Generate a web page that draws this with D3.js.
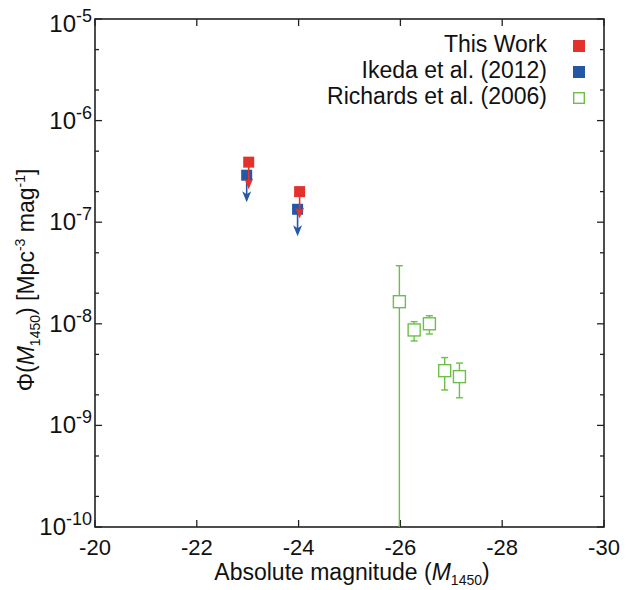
<!DOCTYPE html>
<html>
<head>
<meta charset="utf-8">
<script src="https://cdn.jsdelivr.net/npm/d3@7"></script>
<style>
  html, body { margin: 0; padding: 0; background: #fff; }
  svg { display: block; font-family: "Liberation Sans", Arial, sans-serif; }
</style>
</head>
<body>
<svg id="chart" width="629" height="590"></svg>
<script>
// ---- data ----
const thisWorkM = [-23.02, -24.02];
const thisWorkPhi = [3.9e-7, 2.0e-7];

const ikedaM = [-22.98, -23.98];
const ikedaPhi = [2.9e-7, 1.34e-7];

const richardsM = [-25.98, -26.27, -26.57, -26.87, -27.16];
const richardsPhi = [1.65e-8, 8.7e-9, 1.0e-8, 3.46e-9, 3.02e-9];
const richardsHi = [3.73e-8, 1.05e-8, 1.2e-8, 4.65e-9, 4.11e-9];
const richardsLo = [1e-11, 6.78e-9, 7.94e-9, 2.23e-9, 1.87e-9];

const xTicks = [-20, -22, -24, -26, -28, -30];
const yExponents = [-5, -6, -7, -8, -9, -10];
const yMinorMantissas = [2, 5];
const legendLabels = ["This Work", "Ikeda et al. (2012)", "Richards et al. (2006)"];

// ---- styles ----
const RED = "#e3312c", BLUE = "#2457a6", GREEN = "#6cbf48";

const svg = d3.select("#chart");
const L = 95, R = 604, T = 19, B = 527;
const x = d3.scaleLinear().domain([-20, -30]).range([L, R]);
const y = d3.scaleLog().domain([1e-10, 1e-5]).range([B, T]);

// clip
svg.append("defs").append("clipPath").attr("id", "clip")
  .append("rect").attr("x", L).attr("y", T).attr("width", R - L).attr("height", B - T);

const minorVals = [];
for (let e = -10; e < -5; e++) { yMinorMantissas.forEach(m => minorVals.push(m * Math.pow(10, e))); }

const axes = svg.append("g").attr("stroke", "#222").attr("stroke-width", 1.3);
// y ticks (left & right, inward)
yExponents.forEach(e => {
  const yy = y(Math.pow(10, e));
  axes.append("line").attr("x1", L).attr("x2", L + 7).attr("y1", yy).attr("y2", yy);
  axes.append("line").attr("x1", R).attr("x2", R - 7).attr("y1", yy).attr("y2", yy);
});
minorVals.forEach(v => {
  const yy = y(v);
  axes.append("line").attr("x1", L).attr("x2", L + 4).attr("y1", yy).attr("y2", yy);
  axes.append("line").attr("x1", R).attr("x2", R - 4).attr("y1", yy).attr("y2", yy);
});
// x ticks (bottom & top, inward)
xTicks.forEach(t => {
  const xx = x(t);
  axes.append("line").attr("x1", xx).attr("x2", xx).attr("y1", B).attr("y2", B - 7);
  axes.append("line").attr("x1", xx).attr("x2", xx).attr("y1", T).attr("y2", T + 7);
});
// frame
axes.append("rect").attr("x", L).attr("y", T).attr("width", R - L).attr("height", B - T)
  .attr("fill", "none").attr("stroke-width", 1.6);

// x tick labels
svg.append("g").selectAll("text").data(xTicks).join("text")
  .attr("x", d => x(d)).attr("y", 555).attr("text-anchor", "middle")
  .attr("font-size", 22).attr("fill", "#111").text(d => String(d));

// y tick labels
const yl = svg.append("g");
yExponents.forEach(e => {
  const yy = Math.max(y(Math.pow(10, e)) + 8, 32);
  const t = yl.append("text").attr("x", 92).attr("y", yy).attr("text-anchor", "end")
    .attr("font-size", 24).attr("fill", "#111");
  t.append("tspan").text("10");
  t.append("tspan").attr("font-size", 18).attr("dy", -10).text(String(e));
});

// axis titles
const xt = svg.append("text").attr("x", 352).attr("y", 580).attr("text-anchor", "middle")
  .attr("font-size", 23).attr("fill", "#111");
xt.append("tspan").text("Absolute magnitude (");
xt.append("tspan").attr("font-style", "italic").text("M");
xt.append("tspan").attr("font-size", 14).attr("dy", 5).text("1450");
xt.append("tspan").attr("dy", -5).text(")");

const yt = svg.append("text").attr("transform", "translate(34,280) rotate(-90)")
  .attr("text-anchor", "middle").attr("font-size", 23).attr("fill", "#111");
yt.append("tspan").text("Φ(");
yt.append("tspan").attr("font-style", "italic").text("M");
yt.append("tspan").attr("font-size", 14).attr("dy", 6).text("1450");
yt.append("tspan").attr("dy", -6).text(") [Mpc");
yt.append("tspan").attr("font-size", 14).attr("dy", -9).text("-3");
yt.append("tspan").attr("dy", 9).text(" mag");
yt.append("tspan").attr("font-size", 14).attr("dy", -9).text("-1");
yt.append("tspan").attr("dy", 9).text("]");

// plot marks
const plot = svg.append("g").attr("clip-path", "url(#clip)");

// Richards error bars + open squares
const rich = richardsM.map((m, i) => ({ m, p: richardsPhi[i], hi: richardsHi[i], lo: richardsLo[i] }));
const rg = plot.append("g").attr("stroke", GREEN).attr("stroke-width", 1.4).attr("fill", "none");
rich.forEach(d => {
  const xx = x(d.m);
  rg.append("line").attr("x1", xx).attr("x2", xx).attr("y1", y(d.hi)).attr("y2", y(d.p) - 6);
  rg.append("line").attr("x1", xx).attr("x2", xx).attr("y1", y(d.p) + 6).attr("y2", y(d.lo));
  rg.append("line").attr("x1", xx - 3.5).attr("x2", xx + 3.5).attr("y1", y(d.hi)).attr("y2", y(d.hi));
  if (d.lo > 1e-10) rg.append("line").attr("x1", xx - 3.5).attr("x2", xx + 3.5).attr("y1", y(d.lo)).attr("y2", y(d.lo));
  rg.append("rect").attr("x", xx - 6).attr("y", y(d.p) - 6).attr("width", 12).attr("height", 12);
});

// arrow helper (upper limits)
function arrow(g, xx, y0, color) {
  const len = 27;
  const tip = y0 + len;
  g.append("line").attr("x1", xx).attr("x2", xx).attr("y1", y0).attr("y2", tip - 6)
    .attr("stroke", color).attr("stroke-width", 1.6);
  g.append("path")
    .attr("d", `M${xx},${tip} L${xx - 4.5},${tip - 11} L${xx},${tip - 8} L${xx + 4.5},${tip - 11} Z`)
    .attr("fill", color);
}

// Ikeda
const ik = plot.append("g");
ikedaM.forEach((m, i) => {
  const xx = x(m), yy = y(ikedaPhi[i]);
  ik.append("rect").attr("x", xx - 5.5).attr("y", yy - 5.5).attr("width", 11).attr("height", 11).attr("fill", BLUE);
  arrow(ik, xx, yy, BLUE);
});
// This work
const tw = plot.append("g");
thisWorkM.forEach((m, i) => {
  const xx = x(m), yy = y(thisWorkPhi[i]);
  tw.append("rect").attr("x", xx - 5.5).attr("y", yy - 5.5).attr("width", 11).attr("height", 11).attr("fill", RED);
  arrow(tw, xx, yy, RED);
});

// legend
const lg = svg.append("g");
legendLabels.forEach((lab, i) => {
  const by = 52 + i * 26;
  lg.append("text").attr("x", 547).attr("y", by).attr("text-anchor", "end")
    .attr("font-size", 23).attr("fill", "#111").text(lab);
  const r = lg.append("rect").attr("x", 573).attr("y", by - 12).attr("width", 12).attr("height", 12);
  if (i === 0) r.attr("fill", RED);
  else if (i === 1) r.attr("fill", BLUE);
  else r.attr("fill", "none").attr("stroke", GREEN).attr("stroke-width", 1.4).attr("x", 573.7).attr("y", by - 11.3).attr("width", 10.6).attr("height", 10.6);
});
</script>
</body>
</html>
